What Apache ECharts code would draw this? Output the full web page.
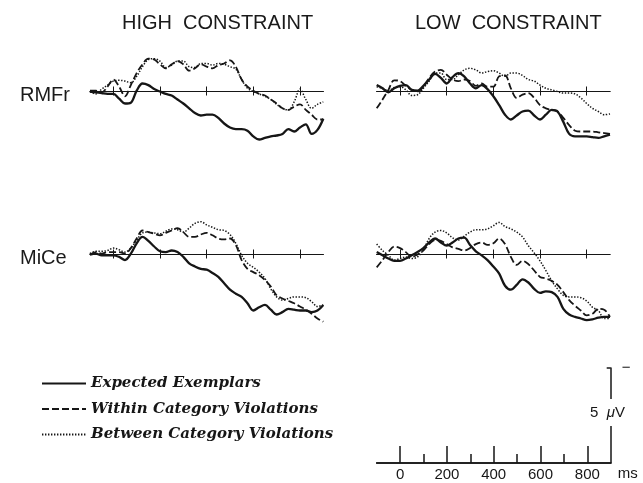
<!DOCTYPE html>
<html><head><meta charset="utf-8">
<script src="https://cdn.jsdelivr.net/npm/echarts@6/dist/echarts.min.js"></script>
<style>html,body{margin:0;padding:0;background:#fff}#c{width:643px;height:483px}</style>
</head><body><div id="c"></div>
<script>
// time points (ms)
const times = [-100,-75,-50,-25,0,25,50,75,100,125,150,175,200,225,250,275,300,325,350,375,400,425,450,475,500,525,550,575,600,625,650,675,700,725,750,775,800,825,850,875,900];
const conditions = ['Expected Exemplars','Within Category Violations','Between Category Violations'];
const columnTitles = ['HIGH  CONSTRAINT','LOW  CONSTRAINT'];
const sites = ['RMFr','MiCe'];
const timeTicks = [0,200,400,600,800];
const minorTimeTicks = [100,300,500,700];
const scaleLabel = '5  {m|μ}V';
const timeUnit = 'ms';

// amplitudes in µV (negative plotted up)
const rmfrHighExp = [0,0.1,0.2,0.3,0.3,0.9,1.5,1.4,-0.1,-1.0,-0.8,-0.3,0,0.3,0.5,1.0,1.5,2.1,2.7,3.0,2.9,2.9,3.3,4.0,4.5,4.7,4.7,4.9,5.6,6.0,5.8,5.6,5.5,5.3,4.7,5.0,4.5,4.1,5.3,4.8,3.4];
const rmfrHighWithin = [-0.1,-0.1,0.1,-0.6,-1.5,-0.6,0.6,-0.8,-2.3,-3.4,-4.1,-4.0,-3.4,-2.9,-3.4,-3.8,-3.4,-2.6,-2.9,-3.4,-3.1,-2.9,-3.3,-3.5,-3.9,-3.1,-1.5,-0.6,-0.1,0.3,0.5,1.0,1.5,2.1,2.3,1.9,1.6,2.3,2.9,3.5,3.5];
const rmfrHighBetween = [0,0.3,-0.3,-0.8,-1.3,-1.4,-1.3,-1.1,-1.9,-3.1,-4.0,-4.1,-3.8,-3.0,-3.3,-3.8,-3.8,-3.1,-3.0,-3.5,-3.5,-3.3,-3.5,-3.4,-3.1,-2.8,-1.5,-0.4,0,0.3,0.6,1.0,1.6,2.1,2.3,1.3,-0.3,1.0,2.1,1.6,1.3];
const rmfrLowExp = [-0.8,-0.4,0.1,-0.4,-0.7,-0.8,-0.2,-0.1,-0.7,-1.5,-2.2,-1.7,-1.0,-1.8,-2.3,-1.9,-1.0,-0.4,-0.8,-0.3,0.6,1.7,2.9,3.5,3.0,2.5,2.4,3.0,3.5,2.9,2.3,2.5,3.8,5.3,5.6,5.6,5.6,5.7,5.8,5.6,5.4];
const rmfrLowWithin = [2.1,1.0,-0.2,-1.4,-1.3,-0.7,-0.2,0,-0.6,-1.7,-2.5,-2.7,-2.1,-1.5,-1.3,-1.5,-1.3,-0.7,-1.0,-0.6,-0.6,-1.9,-2.0,-0.4,0.8,0.4,0.2,0.8,1.7,2.1,2.3,2.5,3.3,4.2,4.9,5.0,5.0,5.0,5.1,5.2,5.3];
const rmfrLowBetween = [-0.6,-0.4,-0.1,-0.5,-0.6,-0.2,0.5,0.4,-0.4,-1.3,-2.3,-2.3,-1.5,-1.5,-2.1,-2.7,-2.9,-2.7,-2.3,-2.5,-2.6,-2.3,-1.9,-2.3,-2.3,-2.0,-1.5,-1.3,-0.8,-0.4,-0.2,0,0.2,0.2,0.3,0.8,1.5,2.1,2.5,2.9,2.8];
const miceHighExp = [0,-0.1,0.1,0.1,0.1,0.3,0.7,-0.1,-1.4,-2.2,-1.7,-1.0,-0.4,-0.3,-0.5,-0.3,0.3,1.1,1.5,1.8,1.9,2.3,2.8,3.6,4.4,4.9,5.3,6.1,7.0,6.6,6.3,6.9,7.5,7.2,6.8,6.9,7.0,7.0,7.2,7.0,6.3];
const miceHighWithin = [0,-0.3,-0.1,-0.3,-0.3,-0.3,-0.1,-0.8,-2.0,-3.0,-2.8,-2.6,-2.4,-2.7,-3.0,-3.3,-2.8,-2.2,-2.2,-2.5,-2.7,-2.4,-2.0,-1.9,-2.0,-1.2,0.7,1.8,2.2,2.6,3.2,4.0,5.1,5.5,5.8,6.1,6.5,6.9,7.4,8.0,8.4];
const miceHighBetween = [-0.1,-0.4,-0.4,-0.5,-0.8,-0.6,-0.3,-0.8,-1.8,-2.7,-2.8,-2.7,-2.6,-2.9,-3.2,-3.1,-2.8,-3.3,-3.9,-4.1,-3.7,-3.4,-3.1,-3.0,-2.5,-1.4,0.1,1.1,1.6,2.2,3.0,4.3,5.3,5.7,5.5,5.3,5.3,5.4,5.9,6.5,6.3];
const miceLowExp = [-0.3,0.1,0.5,0.8,0.8,0.5,0.1,-0.3,-0.8,-1.5,-2.0,-1.5,-1.1,-1.5,-2.0,-2.1,-1.2,-0.4,0.1,0.7,1.5,2.4,3.9,4.4,3.8,3.1,3.5,4.3,4.8,4.6,4.7,5.3,6.8,7.5,7.8,8.0,8.2,8.1,7.9,7.8,7.8];
const miceLowWithin = [1.6,0.7,-0.3,-1.0,-0.8,-0.3,0.3,0,-0.5,-1.3,-1.8,-1.7,-1.3,-0.9,-0.7,-0.5,-0.8,-1.3,-1.5,-1.2,-1.4,-2.0,-1.3,0.3,1.3,0.8,1.2,2.0,2.8,3.0,3.3,3.8,4.7,5.7,6.4,7.0,7.6,7.4,6.8,6.9,7.8];
const miceLowBetween = [-1.3,-0.5,0.1,0.7,0.5,0.3,0.5,0.3,-0.6,-2.0,-2.8,-3.0,-2.7,-2.1,-1.8,-2.3,-2.8,-3.1,-3.1,-3.2,-3.6,-4.0,-3.5,-3.2,-2.8,-2.2,-1.1,-0.2,0.8,2.0,3.3,4.3,5.1,5.3,5.3,5.4,5.8,6.6,7.0,8.0,8.0];

const panels = [
  [rmfrHighExp, rmfrHighWithin, rmfrHighBetween],
  [rmfrLowExp, rmfrLowWithin, rmfrLowBetween],
  [miceHighExp, miceHighWithin, miceHighBetween],
  [miceLowExp, miceLowWithin, miceLowBetween]
];

const INK = '#161616';
const gridBoxes = [
  {left: 90, top: 43.5, width: 233.3, height: 112, ymin: -6, ymax: 8},
  {left: 376.7, top: 43.5, width: 233.3, height: 112, ymin: -6, ymax: 8},
  {left: 90, top: 206.5, width: 233.3, height: 120, ymin: -6, ymax: 9},
  {left: 376.7, top: 206.5, width: 233.3, height: 120, ymin: -6, ymax: 9}
];
const lineStyles = [
  {type: 'solid', width: 2.3},
  {type: [7, 3], width: 1.8},
  {type: [1.4, 1.6], width: 1.5}
];

const grid = [], xAxis = [], yAxis = [], series = [];
function baselineAxis(gi, inside) {
  return {
    gridIndex: gi, type: 'value', min: -100, max: 900, position: 'bottom',
    axisLine: {show: true, onZero: true, lineStyle: {color: INK, width: 1}},
    axisTick: {show: true, customValues: timeTicks, inside: inside, length: inside ? 5 : 4, lineStyle: {color: INK, width: 1}},
    axisLabel: {show: false}, splitLine: {show: false}
  };
}
// panels: grids 0-3 carry the waveforms
gridBoxes.forEach((g, i) => {
  grid.push({left: g.left, top: g.top, width: g.width, height: g.height, outerBoundsMode: 'none'});
  xAxis.push(baselineAxis(i, true));
  yAxis.push({gridIndex: i, type: 'value', min: g.ymin, max: g.ymax, inverse: true, show: false, splitLine: {show: false}});
  panels[i].forEach((arr, k) => {
    series.push({
      type: 'line', name: conditions[k], xAxisIndex: i, yAxisIndex: i,
      data: times.map((t, j) => [t, arr[j]]),
      showSymbol: false, symbol: 'none', smooth: 0.35,
      lineStyle: {color: INK, width: lineStyles[k].width, type: lineStyles[k].type},
      itemStyle: {color: INK},
      z: 3 - k, silent: true
    });
  });
});
// grids 4-7: same boxes, for the downward half of the baseline ticks
gridBoxes.forEach((g, i) => {
  grid.push({left: g.left, top: g.top, width: g.width, height: g.height, outerBoundsMode: 'none'});
  xAxis.push(baselineAxis(4 + i, false));
  yAxis.push({gridIndex: 4 + i, type: 'value', min: g.ymin, max: g.ymax, inverse: true, show: false, splitLine: {show: false}});
});

// grid 8: time / voltage calibration
grid.push({left: 376.7, top: 368, width: 234, height: 95, outerBoundsMode: 'none'});
xAxis.push({
  gridIndex: 8, type: 'value', min: -100, max: 900, position: 'bottom',
  axisLine: {show: true, onZero: false, lineStyle: {color: INK, width: 1.5}},
  axisTick: {show: true, customValues: timeTicks, inside: true, length: 17, lineStyle: {color: INK, width: 1.5}},
  axisLabel: {show: true, customValues: timeTicks, margin: 4, color: INK, fontSize: 15, fontFamily: 'Liberation Sans'},
  splitLine: {show: false},
  name: timeUnit, nameLocation: 'end', nameGap: 7, nameMoveOverlap: false,
  nameTextStyle: {color: INK, fontSize: 15, fontFamily: 'Liberation Sans', verticalAlign: 'top', padding: [3, 0, 0, 0]}
});
xAxis.push({
  gridIndex: 8, type: 'value', min: -100, max: 900, position: 'bottom',
  axisLine: {show: true, onZero: false, lineStyle: {color: INK, width: 1.5}},
  axisTick: {show: true, customValues: minorTimeTicks, inside: true, length: 9, lineStyle: {color: INK, width: 1.5}},
  axisLabel: {show: false}, splitLine: {show: false}
});
yAxis.push({
  gridIndex: 8, type: 'value', min: -5, max: 0, inverse: true, position: 'right',
  axisLine: {show: true, onZero: false, lineStyle: {color: INK, width: 1.5}},
  axisTick: {show: true, customValues: [-5], inside: true, length: 4, lineStyle: {color: INK, width: 1.5}},
  axisLabel: {show: true, customValues: [-5], formatter: () => '−', margin: 11, color: INK, fontSize: 15, fontFamily: 'Liberation Sans'},
  splitLine: {show: false}
});

const titleStyle = {fontFamily: 'Liberation Sans', fontSize: 20, fontWeight: 'normal', color: '#1a1a1a'};
const title = [
  {text: columnTitles[0], left: 117, top: 8, textStyle: titleStyle},
  {text: columnTitles[1], left: 410, top: 8, textStyle: titleStyle},
  {text: sites[0], left: 15, top: 80, textStyle: titleStyle},
  {text: sites[1], left: 15, top: 243, textStyle: titleStyle},
  {text: scaleLabel, left: 588, top: 399, padding: [6, 2, 6, 2], backgroundColor: '#fff',
   textStyle: {fontFamily: 'Liberation Sans', fontSize: 15, fontWeight: 'normal', color: INK,
     rich: {m: {fontFamily: 'Liberation Sans', fontSize: 15, fontStyle: 'italic', color: INK}}}}
];

const chart = echarts.init(document.getElementById('c'), null, {renderer: 'canvas'});
chart.setOption({
  animation: false,
  backgroundColor: '#fff',
  title: title,
  legend: {
    data: conditions, orient: 'vertical', left: 41, top: 376, padding: 0,
    itemWidth: 44, itemHeight: 12, itemGap: 10.5,
    itemStyle: {opacity: 0},
    textStyle: {fontFamily: 'DejaVu Serif', fontStyle: 'italic', fontWeight: 'bold', fontSize: 15, color: INK},
    selectedMode: false
  },
  grid: grid, xAxis: xAxis, yAxis: yAxis, series: series
});
</script></body></html>
